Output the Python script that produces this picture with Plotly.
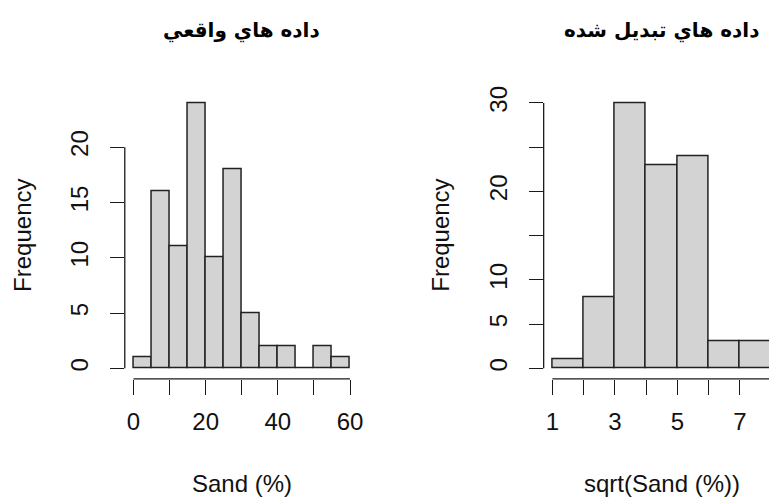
import plotly.graph_objects as go

# ---- data ----
sand_breaks = [0, 5, 10, 15, 20, 25, 30, 35, 40, 45, 50, 55, 60]
sand_counts = [1, 16, 11, 24, 10, 18, 5, 2, 2, 0, 2, 1]

sqrt_breaks = [1, 2, 3, 4, 5, 6, 7, 8]
sqrt_counts = [1, 8, 30, 23, 24, 3, 3]

left_xticks = [0, 10, 20, 30, 40, 50, 60]
left_xlabels = ["0", "", "20", "", "40", "", "60"]
left_yticks = [0, 5, 10, 15, 20]
left_ylabels = ["0", "5", "10", "15", "20"]

right_xticks = [1, 2, 3, 4, 5, 6, 7, 8]
right_xlabels = ["1", "", "3", "", "5", "", "7", ""]
right_yticks = [0, 5, 10, 15, 20, 25, 30]
right_ylabels = ["0", "5", "10", "", "20", "", "30"]

titles = ["داده هاي واقعي", "داده هاي تبديل شده"]
xtitles = ["Sand (%)", "sqrt(Sand (%))"]
ytitle = "Frequency"

# ---- layout geometry (pixels) ----
W, H = 774, 497
TOP, BOTTOM = 87.4, 377.5
L_X0, L_X1 = 125.6, 361.0
R_X0, R_PX_PER_UNIT = 547.2, 31.45

FONT = "Liberation Sans, Arial, sans-serif"
BAR_FILL = "#D3D3D3"
INK = "#1a1a1a"


def px2paper_x(px):
    return px / W


def px2paper_y(py):
    return 1 - py / H


def r_range(lo, hi):
    ext = 0.04 * (hi - lo)
    return [lo - ext, hi + ext]


def centers(breaks):
    return [(a + b) / 2 for a, b in zip(breaks[:-1], breaks[1:])]


def widths(breaks):
    return [b - a for a, b in zip(breaks[:-1], breaks[1:])]


fig = go.Figure()

fig.add_trace(go.Bar(
    x=centers(sand_breaks), y=sand_counts, width=widths(sand_breaks),
    marker=dict(color=BAR_FILL, line=dict(color="#222", width=1.5)),
    xaxis="x", yaxis="y", hoverinfo="skip", showlegend=False,
))
fig.add_trace(go.Bar(
    x=centers(sqrt_breaks), y=sqrt_counts, width=widths(sqrt_breaks),
    marker=dict(color=BAR_FILL, line=dict(color="#222", width=1.5)),
    xaxis="x2", yaxis="y2", hoverinfo="skip", showlegend=False,
))

left_xr = r_range(sand_breaks[0], sand_breaks[-1])
left_yr = r_range(0, max(sand_counts))
right_full = r_range(sqrt_breaks[0], sqrt_breaks[-1])
right_xr = [right_full[0], right_full[0] + (W - R_X0) / R_PX_PER_UNIT]
right_yr = r_range(0, max(sqrt_counts))

ydom = [px2paper_y(BOTTOM), px2paper_y(TOP)]

common_x = dict(showgrid=False, zeroline=False, showline=False, ticks="outside",
                ticklen=15, tickwidth=1.3, tickcolor=INK,
                tickfont=dict(family=FONT, size=24, color="#111"),
                ticklabelstandoff=6, fixedrange=True)
common_y = dict(showgrid=False, zeroline=False, showline=False, ticks="outside",
                ticklen=14, tickwidth=1.3, tickcolor=INK, tickangle=-90,
                tickfont=dict(family=FONT, size=24, color="#111"),
                ticklabelstandoff=12, fixedrange=True)

fig.update_layout(
    width=W, height=H,
    margin=dict(l=0, r=0, t=0, b=0),
    paper_bgcolor="white", plot_bgcolor="white",
    bargap=0,
    xaxis=dict(domain=[px2paper_x(L_X0), px2paper_x(L_X1)], range=left_xr,
               tickvals=left_xticks, ticktext=left_xlabels, anchor="y", **common_x),
    yaxis=dict(domain=ydom, range=left_yr, tickvals=left_yticks,
               ticktext=left_ylabels, anchor="x", **common_y),
    xaxis2=dict(domain=[px2paper_x(R_X0), 1.0], range=right_xr,
                tickvals=right_xticks, ticktext=right_xlabels, anchor="y2", **common_x),
    yaxis2=dict(domain=ydom, range=right_yr, tickvals=right_yticks,
                ticktext=right_ylabels, anchor="x2", **common_y),
    showlegend=False,
)

# axis lines spanning only first..last tick (R style)
for xa, ya, xt, yt in [("x", "y", left_xticks, left_yticks),
                       ("x2", "y2", right_xticks, right_yticks)]:
    fig.add_shape(type="line", xref=xa, yref=ya + " domain",
                  x0=xt[0], x1=xt[-1], y0=0, y1=0,
                  line=dict(color=INK, width=1.3))
    fig.add_shape(type="line", xref=xa + " domain", yref=ya,
                  x0=0, x1=0, y0=yt[0], y1=yt[-1],
                  line=dict(color=INK, width=1.3))

# titles & axis titles
panels = [(L_X0, L_X1), (R_X0, R_X0 + (right_full[1] - right_full[0]) * R_PX_PER_UNIT)]
for (x0, x1), t, xt in zip(panels, titles, xtitles):
    cx = (x0 + x1) / 2
    fig.add_annotation(text="<b>" + t + "</b>", x=px2paper_x(cx), y=px2paper_y(25),
                       xref="paper", yref="paper", xanchor="center", yanchor="middle",
                       showarrow=False,
                       font=dict(family="DejaVu Sans, sans-serif", size=20, color="#000"))
    fig.add_annotation(text=xt, x=px2paper_x(cx), y=px2paper_y(483.5),
                       xref="paper", yref="paper", xanchor="center", yanchor="middle",
                       showarrow=False,
                       font=dict(family=FONT, size=24, color="#111"))
    fig.add_annotation(text=ytitle, x=px2paper_x(x0 - 103.2), y=px2paper_y((TOP + BOTTOM) / 2),
                       xref="paper", yref="paper", xanchor="center", yanchor="middle",
                       textangle=-90, showarrow=False,
                       font=dict(family=FONT, size=24, color="#111"))

fig.write_html("out.html", config={"displayModeBar": False})
